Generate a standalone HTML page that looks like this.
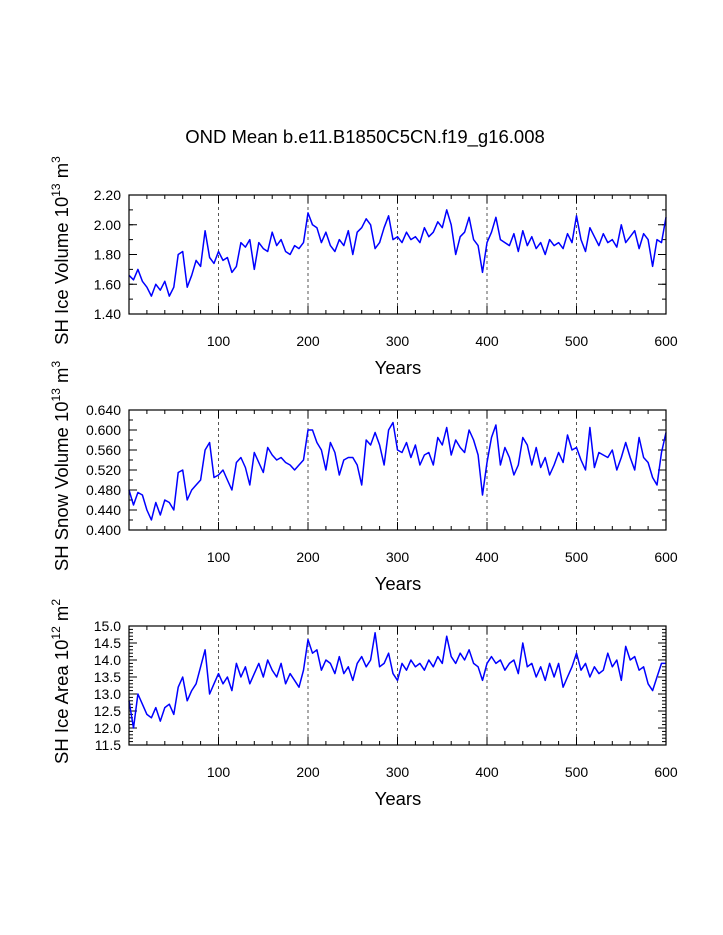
<!DOCTYPE html>
<html><head><meta charset="utf-8"><style>
html,body{margin:0;padding:0;background:#fff;}
svg{display:block;font-family:"Liberation Sans",sans-serif;}
</style></head><body>
<svg id="chart" width="723" height="935" viewBox="0 0 723 935" xmlns="http://www.w3.org/2000/svg">
<text x="365" y="143" text-anchor="middle" font-size="18.5">OND Mean b.e11.B1850C5CN.f19_g16.008</text>
</svg>
<script>
const years = [];
for (let y = 0; y <= 600; y += 5) years.push(y);
const xTicks = [100,200,300,400,500,600];
const iceVolume = [1.66,1.63,1.70,1.62,1.58,1.52,1.60,1.56,1.62,1.52,1.58,1.80,1.82,1.58,1.66,1.76,1.72,1.96,1.78,1.74,1.82,1.76,1.78,1.68,1.72,1.88,1.85,1.90,1.70,1.88,1.84,1.82,1.95,1.86,1.90,1.82,1.80,1.86,1.84,1.88,2.08,2.00,1.98,1.88,1.95,1.86,1.82,1.90,1.86,1.96,1.80,1.95,1.98,2.04,2.00,1.84,1.88,1.98,2.06,1.90,1.92,1.88,1.95,1.90,1.92,1.88,1.98,1.92,1.95,2.02,1.98,2.10,2.00,1.80,1.92,1.95,2.05,1.90,1.86,1.68,1.88,1.95,2.05,1.90,1.88,1.86,1.94,1.82,1.96,1.86,1.92,1.84,1.88,1.80,1.90,1.86,1.88,1.84,1.94,1.88,2.06,1.90,1.82,1.98,1.92,1.86,1.94,1.88,1.90,1.85,2.00,1.88,1.92,1.96,1.84,1.94,1.90,1.72,1.90,1.88,2.05];
const snowVolume = [0.48,0.45,0.475,0.47,0.44,0.42,0.455,0.43,0.46,0.455,0.44,0.515,0.52,0.46,0.48,0.49,0.50,0.56,0.575,0.505,0.51,0.52,0.50,0.48,0.535,0.545,0.525,0.49,0.555,0.535,0.515,0.565,0.55,0.54,0.545,0.535,0.53,0.52,0.53,0.54,0.60,0.60,0.575,0.56,0.52,0.575,0.555,0.51,0.54,0.545,0.545,0.53,0.49,0.58,0.57,0.595,0.57,0.53,0.60,0.615,0.56,0.555,0.575,0.545,0.57,0.53,0.55,0.555,0.53,0.585,0.57,0.605,0.55,0.58,0.565,0.555,0.60,0.58,0.55,0.47,0.535,0.585,0.61,0.53,0.565,0.545,0.51,0.53,0.585,0.57,0.53,0.565,0.525,0.545,0.51,0.53,0.555,0.535,0.59,0.56,0.565,0.54,0.52,0.605,0.525,0.555,0.55,0.545,0.56,0.52,0.545,0.575,0.545,0.52,0.585,0.545,0.535,0.505,0.49,0.555,0.595];
const iceArea = [12.8,12.0,13.0,12.7,12.4,12.3,12.6,12.2,12.6,12.7,12.4,13.2,13.5,12.8,13.1,13.3,13.8,14.3,13.0,13.3,13.6,13.3,13.5,13.1,13.9,13.5,13.8,13.3,13.6,13.9,13.5,14.0,13.7,13.5,13.9,13.3,13.6,13.4,13.2,13.7,14.6,14.2,14.3,13.7,14.0,13.9,13.6,14.1,13.6,13.8,13.4,13.9,14.1,13.8,14.0,14.8,13.8,13.9,14.2,13.6,13.4,13.9,13.7,14.0,13.8,13.9,13.7,14.0,13.8,14.1,13.9,14.7,14.1,13.9,14.2,14.0,14.3,13.9,13.8,13.4,13.9,14.1,13.9,14.0,13.7,13.9,14.0,13.6,14.5,13.8,13.9,13.5,13.8,13.4,13.9,13.5,13.9,13.2,13.5,13.8,14.2,13.7,13.9,13.5,13.8,13.6,13.7,14.2,13.8,14.0,13.4,14.4,14.0,14.1,13.7,13.8,13.3,13.1,13.5,13.9,13.9];
const ticks1 = ["1.40","1.60","1.80","2.00","2.20"];
const ticks2 = ["0.400","0.440","0.480","0.520","0.560","0.600","0.640"];
const ticks3 = ["11.5","12.0","12.5","13.0","13.5","14.0","14.5","15.0"];

const NS = "http://www.w3.org/2000/svg";
const svg = document.getElementById('chart');
function mk(tag, attrs, parent){ const e=document.createElementNS(NS,tag); for(const k in attrs) e.setAttribute(k,attrs[k]); (parent||svg).appendChild(e); return e; }
const X0=129, X1=666;
const xs = y => X0 + (y/600)*(X1-X0);

function panel(id, top, bottom, data, tickLabels, minorStep, titleMain, titleExp, titleUnit, unitExp){
  const g = mk('g',{});
  
  
  const lo = parseFloat(tickLabels[0]), hi = parseFloat(tickLabels[tickLabels.length-1]);
  const ys = v => bottom - (v-lo)/(hi-lo)*(bottom-top);
  for (const t of xTicks.slice(0,5)) {
    const l = mk('line',{x1:xs(t),x2:xs(t),y1:top,y2:bottom,stroke:'#555','stroke-width':1,'stroke-dasharray':'3,3'},g);
    
    
  }
  for (let v=lo; v<=hi+1e-9; v+=minorStep){
    const y=ys(v);
    mk('line',{x1:X0,x2:X0+4,y1:y,y2:y,stroke:'#000','stroke-width':1},g);
    mk('line',{x1:X1,x2:X1-4,y1:y,y2:y,stroke:'#000','stroke-width':1},g);
  }
  for (const t of tickLabels){
    const y=ys(parseFloat(t));
    mk('line',{x1:X0,x2:X0+8,y1:y,y2:y,stroke:'#000','stroke-width':1},g);
    mk('line',{x1:X1,x2:X1-8,y1:y,y2:y,stroke:'#000','stroke-width':1},g);
    const tx = mk('text',{x:121,y:y+5,'text-anchor':'end','font-size':14},g);
    tx.textContent=t;
    
    
  }
  for (let yr=20; yr<600; yr+=20){
    const x=xs(yr), major = yr%100===0;
    const L = major?8:4;
    mk('line',{x1:x,x2:x,y1:bottom,y2:bottom-L,stroke:'#000','stroke-width':1},g);
    mk('line',{x1:x,x2:x,y1:top,y2:top+L,stroke:'#000','stroke-width':1},g);
  }
  for (const t of xTicks){
    const tx = mk('text',{x:xs(t),y:bottom+32,'text-anchor':'middle','font-size':14},g);
    tx.textContent=t;
    
    
  }
  const xt = mk('text',{x:398,y:bottom+60,'text-anchor':'middle','font-size':18.5},g);
  xt.textContent='Years';
  
  
  const cy=(top+bottom)/2 - 4;
  const yt = mk('text',{x:0,y:0,'text-anchor':'middle','font-size':18.5,transform:`translate(68,${cy}) rotate(-90)`},g);
  
  
  const a=document.createElementNS(NS,'tspan'); a.textContent=titleMain+' '+titleExp.base; yt.appendChild(a);
  const b=document.createElementNS(NS,'tspan'); b.setAttribute('dy','-8'); b.setAttribute('font-size','12'); b.textContent=titleExp.exp; yt.appendChild(b);
  const c=document.createElementNS(NS,'tspan'); c.setAttribute('dy','8'); c.textContent=' '+titleUnit; yt.appendChild(c);
  const d=document.createElementNS(NS,'tspan'); d.setAttribute('dy','-8'); d.setAttribute('font-size','12'); d.textContent=unitExp; yt.appendChild(d);
  const pts = data.map((v,i)=>xs(years[i]).toFixed(1)+','+ys(v).toFixed(1)).join(' ');
  const pl = mk('polyline',{points:pts,fill:'none',stroke:'#0000ff','stroke-width':1.5,'stroke-linejoin':'round'},g);
  
  
  const fr = mk('rect',{x:X0,y:top,width:X1-X0,height:bottom-top,fill:'none',stroke:'#000','stroke-width':1.2},g);
  
  
}
panel('ice-volume',195,314,iceVolume,ticks1,0.1,'SH Ice Volume',{base:'10',exp:'13'},'m','3');
panel('snow-volume',410,530,snowVolume,ticks2,0.02,'SH Snow Volume',{base:'10',exp:'13'},'m','3');
panel('ice-area',626,745,iceArea,ticks3,0.1,'SH Ice Area',{base:'10',exp:'12'},'m','2');
</script>
</body></html>
